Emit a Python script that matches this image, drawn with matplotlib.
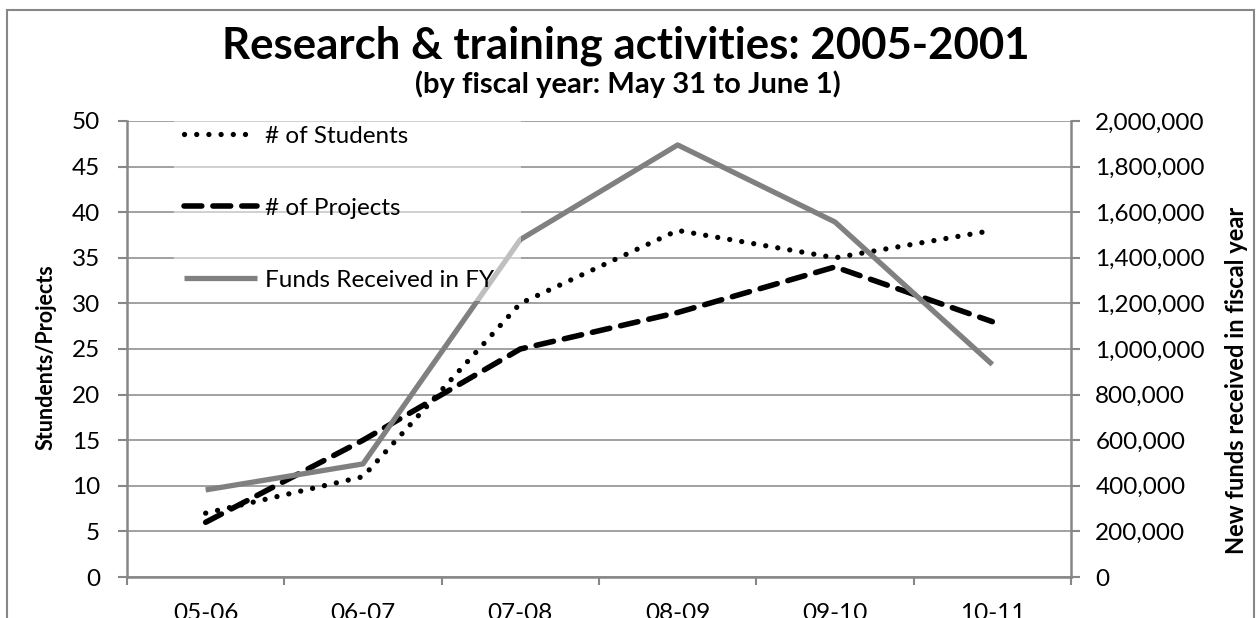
import numpy as np
import matplotlib.pyplot as plt
from matplotlib.patches import Rectangle
from matplotlib.ticker import FuncFormatter

plt.rcParams['font.family'] = ['Lato', 'DejaVu Sans']

# data
years = ['05-06', '06-07', '07-08', '08-09', '09-10', '10-11']
students = [7, 11, 30, 38, 35, 38]
projects = [6, 15, 25, 29, 34, 28]
funds = [382000, 496000, 1480000, 1895000, 1557000, 932000]

W, H = 1256, 618
grey = '#878787'
fig = plt.figure(figsize=(W / 100, H / 100), dpi=100)

# chart frame (runs off the bottom of the image)
fig.add_artist(Rectangle((7 / W, -0.1), (1254 - 7) / W, 1 - 10 / H + 0.1,
                         transform=fig.transFigure, fill=False, ec=grey, lw=1.5))

ax = fig.add_axes([127 / W, 1 - 577 / H, (1071 - 127) / W, (577 - 121) / H])
ax2 = ax.twinx()

x = np.arange(len(years))
l1, = ax.plot(x, students, color='black', lw=3.8, linestyle=(0, (0.01, 2.3)),
              dash_capstyle='round', label='# of Students')
l2, = ax.plot(x, projects, color='black', lw=4, linestyle=(0, (3.2, 2.0)),
              dash_capstyle='round', label='# of Projects')
l3, = ax2.plot(x, funds, color='#808080', lw=3.8, solid_capstyle='butt',
               label='Funds Received in FY')

ax.set_xlim(-0.5, len(years) - 0.5)
ax.set_ylim(0, 50)
ax2.set_ylim(0, 2000000)
ax.set_yticks(np.arange(0, 51, 5))
ax2.set_yticks(np.arange(0, 2000001, 200000))
ax2.yaxis.set_major_formatter(FuncFormatter(lambda v, p: f'{v:,.0f}'))

ax.set_xticks(x)
ax.set_xticklabels(years)
ax.set_xticks(np.arange(-0.5, len(years), 1), minor=True)
ax.tick_params(axis='x', which='major', length=0, pad=19, labelsize=17.5)
ax.tick_params(axis='x', which='minor', length=6, width=1.5, color=grey)
ax.tick_params(axis='y', length=6.5, width=1.5, color=grey, pad=13, labelsize=17.5)
ax2.tick_params(axis='y', length=6.5, width=1.5, color=grey, pad=11, labelsize=17.5)

ax.yaxis.grid(True, color=grey, lw=1.1)
ax.set_axisbelow(True)
for s in ['top', 'right']:
    ax.spines[s].set_visible(False)
for s in ['top', 'left', 'bottom']:
    ax2.spines[s].set_visible(False)
for s in ['left', 'bottom']:
    ax.spines[s].set_color(grey)
    ax.spines[s].set_linewidth(1.8)
ax2.spines['right'].set_color(grey)
ax2.spines['right'].set_linewidth(1.8)

fig.text(46 / W, 1 - 357 / H, 'Stundents/Projects', rotation=90, ha='center', va='center',
         fontsize=15.5, fontweight='bold')
fig.text(1237 / W, 1 - 380 / H, 'New funds received in fiscal year', rotation=90,
         ha='center', va='center', fontsize=17, fontweight='bold')

fig.text(626 / W, 1 - 59 / H, 'Research & training activities: 2005-2001', ha='center',
         va='baseline', fontsize=31.5, fontweight='bold')
fig.text(628 / W, 1 - 93 / H, '(by fiscal year: May 31 to June 1)', ha='center',
         va='baseline', fontsize=21, fontweight='bold')

leg = ax2.legend(handles=[l1, l2, l3], loc='upper left',
                 bbox_to_anchor=(174 / W, 1 - 116 / H - 0.05, (521 - 174) / W, 0.05),
                 bbox_transform=fig.transFigure, mode='expand', borderaxespad=0,
                 frameon=True, framealpha=0.5, edgecolor='none', fancybox=False,
                 fontsize=17.5, handlelength=3.0, handletextpad=0.35, labelspacing=2.1,
                 borderpad=0.4)

fig.savefig('out.png', dpi=100)
